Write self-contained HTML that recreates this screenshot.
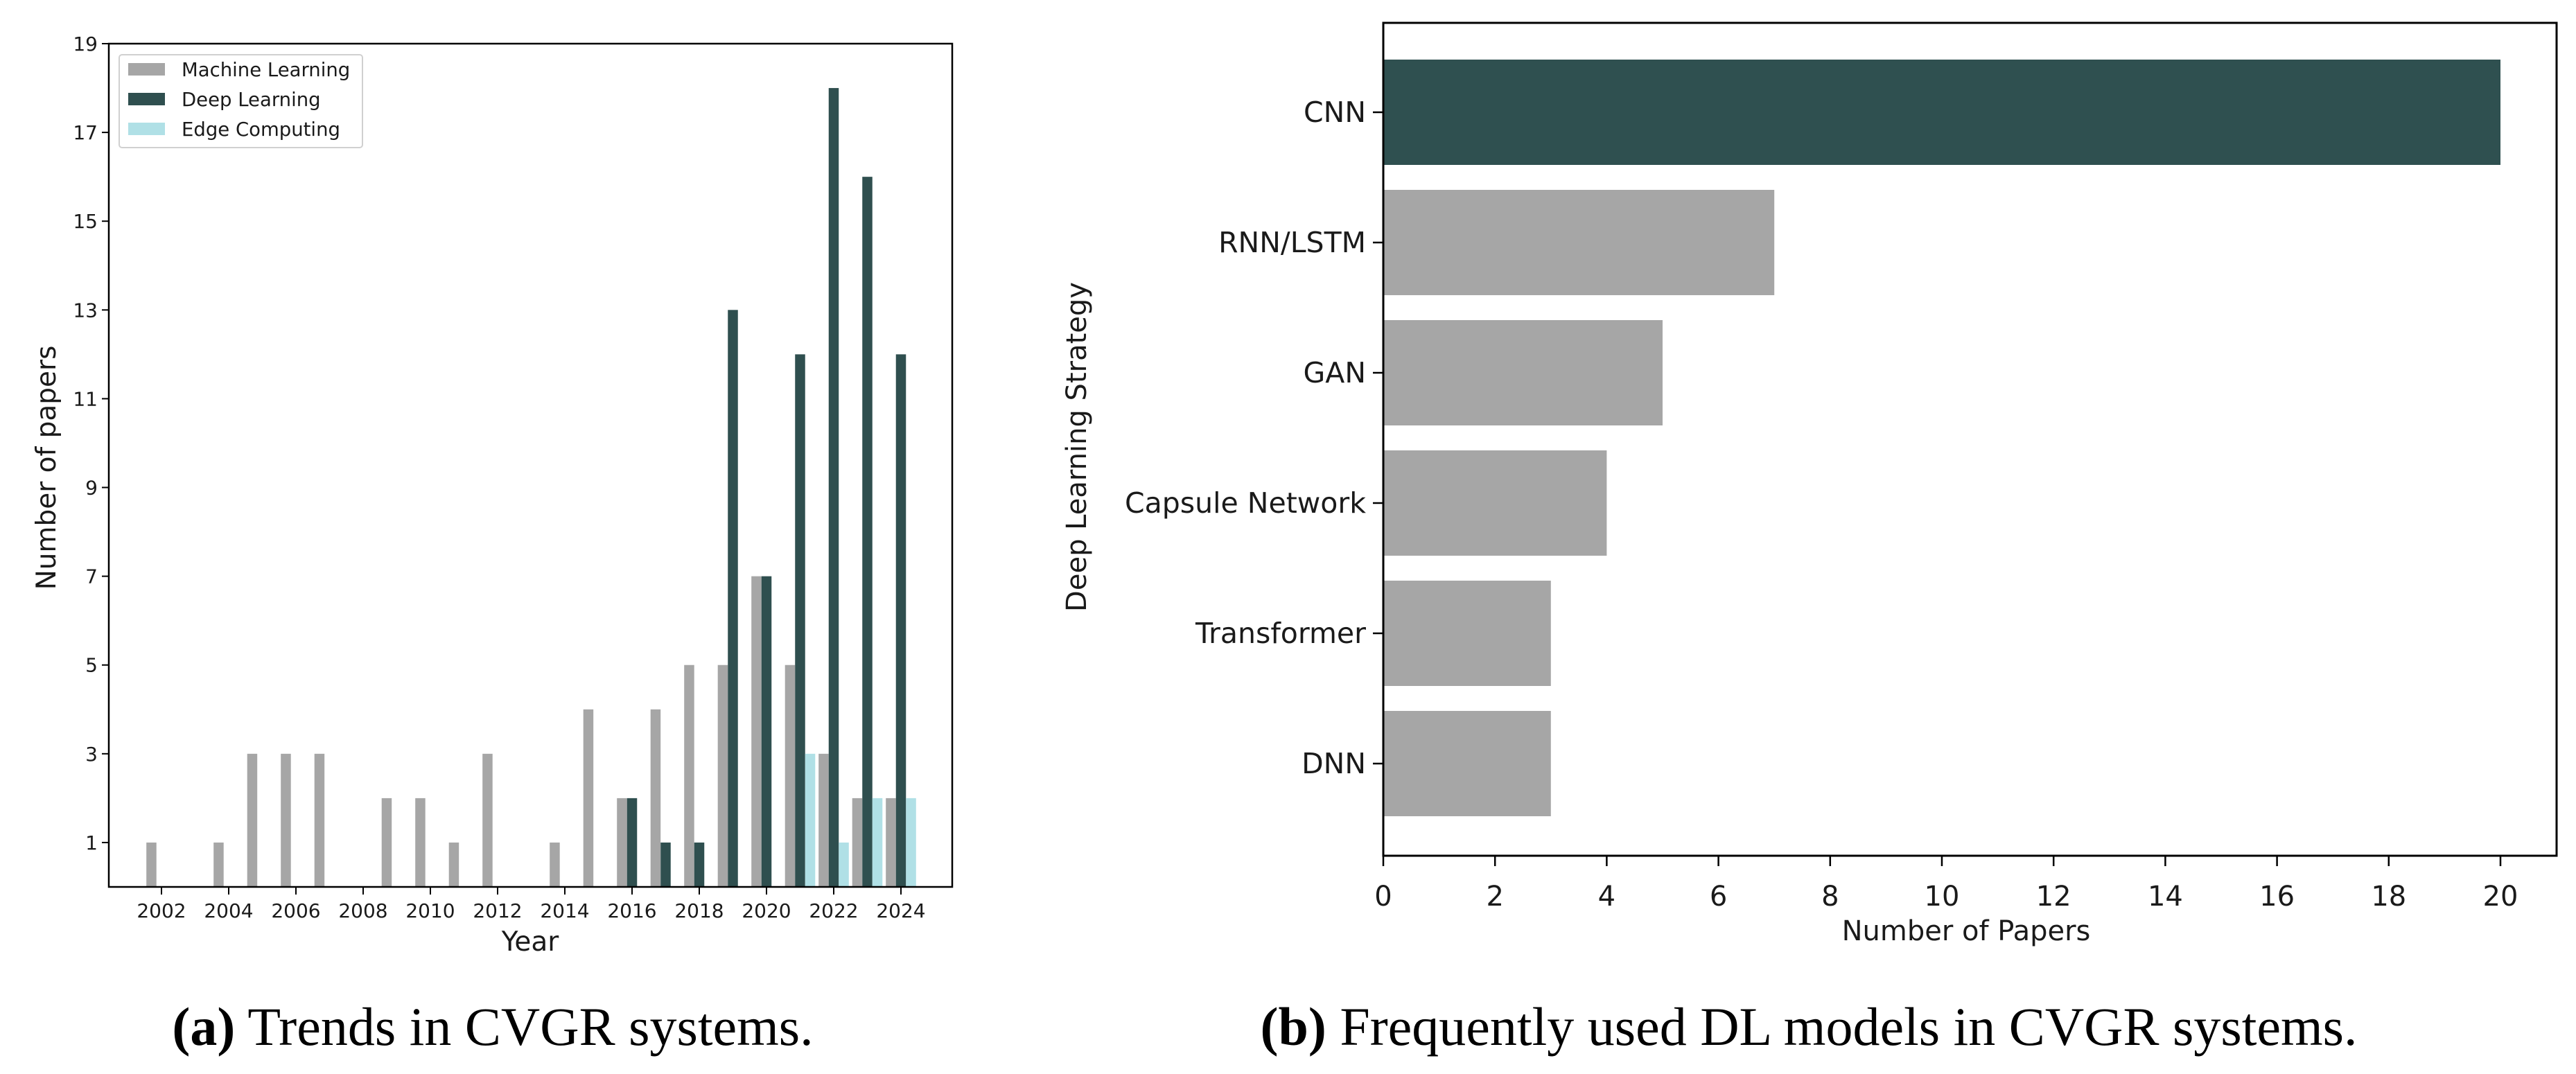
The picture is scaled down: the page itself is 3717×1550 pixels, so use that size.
<!DOCTYPE html>
<html><head><meta charset="utf-8"><style>
html,body{margin:0;padding:0;background:#fff;}
svg{display:block;}
text{font-family:"DejaVu Sans","Liberation Sans",sans-serif;fill:#1a1a1a;}
.cap{font-family:"Liberation Serif",serif;fill:#000;}
</style></head><body>
<svg id="chart" width="3717" height="1550" xmlns="http://www.w3.org/2000/svg">
<g id="left"></g>
<g id="right"></g>
<text class="cap" x="711" y="1508" font-size="78" text-anchor="middle"><tspan font-weight="bold">(a)</tspan> Trends in CVGR systems.</text>
<text class="cap" x="2610" y="1508" font-size="78" text-anchor="middle"><tspan font-weight="bold">(b)</tspan> Frequently used DL models in CVGR systems.</text>
</svg>
<script>
const years = [2001,2002,2003,2004,2005,2006,2007,2008,2009,2010,2011,2012,2013,2014,2015,2016,2017,2018,2019,2020,2021,2022,2023,2024];
const mlValues = [0,1,0,1,3,3,3,0,2,2,1,3,0,1,4,2,4,5,5,7,5,3,2,2];
const dlValues = [0,0,0,0,0,0,0,0,0,0,0,0,0,0,0,2,1,1,13,7,12,18,16,12];
const ecValues = [0,0,0,0,0,0,0,0,0,0,0,0,0,0,0,0,0,0,0,0,3,1,2,2];
const yTicks = [1,3,5,7,9,11,13,15,17,19];
const xTicks = [2002,2004,2006,2008,2010,2012,2014,2016,2018,2020,2022,2024];

const models = ["CNN","RNN/LSTM","GAN","Capsule Network","Transformer","DNN"];
const modelCounts = [20,7,5,4,3,3];
const countTicks = [0,2,4,6,8,10,12,14,16,18,20];

const NS="http://www.w3.org/2000/svg";
function mk(parent,tag,attrs,txt){const e=document.createElementNS(NS,tag);for(const k in attrs)e.setAttribute(k,attrs[k]);if(txt!==undefined)e.textContent=txt;parent.appendChild(e);return e;}

// ---------- Left chart ----------
const L=document.getElementById('left');
const lx0=157,lx1=1374,ly0=63,ly1=1280;
const xs=y=>233+(y-2002)*48.5;
const ys=v=>ly1-(v/19)*(ly1-ly0);
const bw=14.5;
const series=[[mlValues,'#a6a6a6',-0.3,'ml'],[dlValues,'#2f4f4f',0,'dl'],[ecValues,'#b0e0e6',0.3,'ec']];
series.forEach(([vals,col,off,nm])=>{
  vals.forEach((v,i)=>{
    if(v<=0)return;
    const cx=xs(years[i]+off);
    const r=mk(L,'rect',{x:cx-bw/2,y:ys(v),width:bw,height:ys(0)-ys(v),fill:col});
    
    
  });
});
const lf=mk(L,'rect',{x:lx0,y:ly0,width:lx1-lx0,height:ly1-ly0,fill:'none',stroke:'#000','stroke-width':2.5});


yTicks.forEach(t=>{
  const y=ys(t);
  mk(L,'line',{x1:lx0-10,x2:lx0,y1:y,y2:y,stroke:'#000','stroke-width':2});
  const tx=mk(L,'text',{x:lx0-16,y:y+10,'font-size':28,'text-anchor':'end'},t);
  
  
});
xTicks.forEach(t=>{
  const x=xs(t);
  mk(L,'line',{x1:x,x2:x,y1:ly1,y2:ly1+11,stroke:'#000','stroke-width':2});
  const tx=mk(L,'text',{x:x,y:ly1+44,'font-size':28,'text-anchor':'middle'},t);
  
  
});
const xt=mk(L,'text',{x:765,y:1372,'font-size':39,'text-anchor':'middle'},'Year');


const yt=mk(L,'text',{x:0,y:0,'font-size':39,'text-anchor':'middle',transform:'translate(80,675) rotate(-90)'},'Number of papers');


// legend
const lg=mk(L,'g',{});


mk(lg,'rect',{x:172,y:79,width:351,height:134,rx:4,fill:'#fff',stroke:'#d0d0d0','stroke-width':2});
const legNames=['Machine Learning','Deep Learning','Edge Computing'];
const legCols=['#a6a6a6','#2f4f4f','#b0e0e6'];
legNames.forEach((n,i)=>{
  const cy=100+i*43;
  const g=mk(lg,'g',{});
  
  
  mk(g,'rect',{x:185,y:cy-9,width:53,height:18,fill:legCols[i]});
  mk(g,'text',{x:262,y:cy+10,'font-size':27.5},n);
});

// ---------- Right chart ----------
const R=document.getElementById('right');
const rx0=1996,rx1=3689,ry0=33,ry1=1235;
const cs=v=>rx0+v*80.6;
const rowY=i=>162+i*188;
const bh=152;
models.forEach((m,i)=>{
  const r=mk(R,'rect',{x:rx0,y:rowY(i)-bh/2,width:cs(modelCounts[i])-rx0,height:bh,fill:i===0?'#2f5050':'#a6a6a6'});
  
  
  mk(R,'line',{x1:rx0-15,x2:rx0,y1:rowY(i),y2:rowY(i),stroke:'#000','stroke-width':2.5});
  const t=mk(R,'text',{x:rx0-25,y:rowY(i)+14,'font-size':41,'text-anchor':'end'},m);
  
  
});
const rf=mk(R,'rect',{x:rx0,y:ry0,width:rx1-rx0,height:ry1-ry0,fill:'none',stroke:'#000','stroke-width':3});


countTicks.forEach(t=>{
  const x=cs(t);
  mk(R,'line',{x1:x,x2:x,y1:ry1,y2:ry1+15,stroke:'#000','stroke-width':2.5});
  const tx=mk(R,'text',{x:x,y:ry1+72,'font-size':40,'text-anchor':'middle'},t);
  
  
});
const xt2=mk(R,'text',{x:2837,y:1357,'font-size':40,'text-anchor':'middle'},'Number of Papers');


const yt2=mk(R,'text',{x:0,y:0,'font-size':40,'text-anchor':'middle',transform:'translate(1567,645) rotate(-90)'},'Deep Learning Strategy');


</script>
</body></html>
